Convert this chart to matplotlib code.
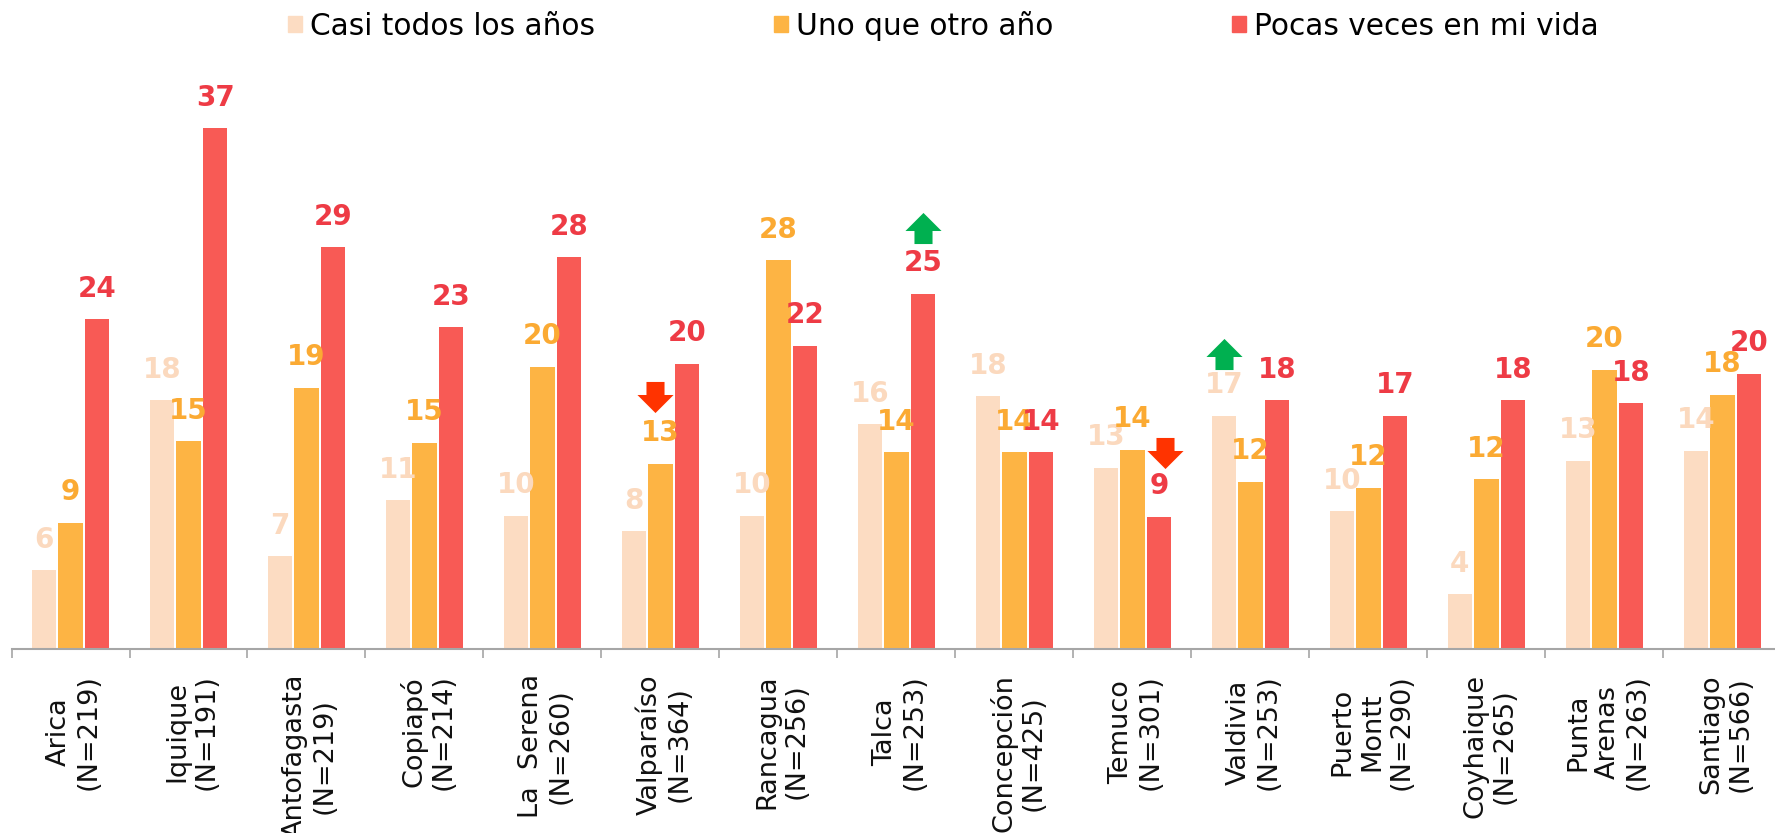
import matplotlib
matplotlib.use("Agg")
import matplotlib.pyplot as plt
from matplotlib.patches import Patch
from matplotlib.path import Path
from matplotlib.transforms import ScaledTranslation
import numpy as np

cities = ["Arica\n(N=219)", "Iquique\n(N=191)", "Antofagasta\n(N=219)", "Copiapó\n(N=214)",
          "La  Serena\n(N=260)", "Valparaíso\n(N=364)", "Rancagua\n(N=256)", "Talca\n(N=253)",
          "Concepción\n(N=425)", "Temuco\n(N=301)", "Valdivia\n(N=253)", "Puerto\nMontt\n(N=290)",
          "Coyhaique\n(N=265)", "Punta\nArenas\n(N=263)", "Santiago\n(N=566)"]
casi_todos = [5.6, 17.7, 6.6, 10.6, 9.5, 8.4, 9.5, 16.0, 18.0, 12.9, 16.6, 9.8, 3.9, 13.4, 14.1]
uno_que_otro = [9.0, 14.8, 18.6, 14.7, 20.1, 13.2, 27.7, 14.0, 14.0, 14.2, 11.9, 11.5, 12.1, 19.9, 18.1]
pocas_veces = [23.5, 37.1, 28.6, 22.9, 27.9, 20.3, 21.6, 25.3, 14.0, 9.4, 17.7, 16.6, 17.7, 17.5, 19.6]
series_names = ["Casi todos los años", "Uno que otro año", "Pocas veces en mi vida"]

bar_colors = ["#FCDCC2", "#FDB444", "#F85A55"]
label_colors = ["#FBD9BE", "#FBAA33", "#EE3B45"]

# arrows: city index, series index, up or down
arrow_city = [5, 7, 9, 10]
arrow_series = [1, 2, 2, 0]
arrow_up = [False, True, False, True]
arrow_dx = [-0.05, 0.0, 0.05, 0.0]
arrow_dy = [4.75, 4.7, 4.55, 4.4]

fig = plt.figure(figsize=(17.75, 8.33), dpi=100)
# axes runs a little past the right edge, the last tick is cut off in the original
ax = fig.add_axes([11.5 / 1775, (833 - 649) / 833, 1770 / 1775, 649 / 833])
ax.set_xlim(0, 15)
ax.set_ylim(0, 649 / 14.04)

x = np.arange(len(cities)) + 0.5
step = 0.226
width = 0.205
all_series = [casi_todos, uno_que_otro, pocas_veces]

for i, values in enumerate(all_series):
    pos = x + (i - 1) * step
    ax.bar(pos, values, width=width, color=bar_colors[i], zorder=2)
for i, values in enumerate(all_series):
    pos = x + (i - 1) * step
    for px, v in zip(pos, values):
        ax.annotate("%.0f" % v, (px, v), xytext=(0, 22), textcoords="offset points",
                    ha="center", va="center", fontsize=20, fontweight="bold",
                    color=label_colors[i], zorder=4)

down_marker = Path([(-9, 15.5), (9, 15.5), (9, 2.5), (18, 2.5), (0, -15.5), (-18, 2.5), (-9, 2.5), (-9, 15.5)], closed=True)
up_marker = Path(down_marker.vertices * np.array([1, -1]), closed=True)
for c, s, up, dx, dy in zip(arrow_city, arrow_series, arrow_up, arrow_dx, arrow_dy):
    ax.plot(x[c] + (s - 1) * step + dx, all_series[s][c] + dy,
            marker=up_marker if up else down_marker, ms=26, mew=0,
            color="#00B050" if up else "#FF3300", zorder=5, clip_on=False)

for side in ["top", "left", "right"]:
    ax.spines[side].set_visible(False)
ax.spines["bottom"].set_color("#A6A6A6")
ax.spines["bottom"].set_linewidth(1.5)
ax.set_yticks([])
ax.set_xticks(np.arange(0, 16))
ax.set_xticklabels([])
ax.tick_params(axis="x", which="major", length=6.5, width=1.2, color="#A6A6A6")
ax.set_xticks(x, minor=True)
ax.set_xticklabels(cities, minor=True, rotation=90, ha="center", va="top",
                   multialignment="center", fontsize=19.5, color="#111111", linespacing=1.18)
ax.tick_params(axis="x", which="minor", length=0, pad=18)
# labels sit a bit right of the bar group
for lab in ax.get_xticklabels(minor=True):
    lab.set_transform(lab.get_transform() + ScaledTranslation(2.5 / 72, 0, fig.dpi_scale_trans))

handles = [Patch(color=c) for c in bar_colors]
fig.legend(handles, series_names, ncol=3, loc="upper left", bbox_to_anchor=(267.5 / 1775, 1.012),
           frameon=False, fontsize=21.3, handlelength=0.47, handleheight=0.47,
           handletextpad=0.27, columnspacing=6.05, borderaxespad=0.3, borderpad=0.4)

fig.savefig("out.png", dpi=100)
